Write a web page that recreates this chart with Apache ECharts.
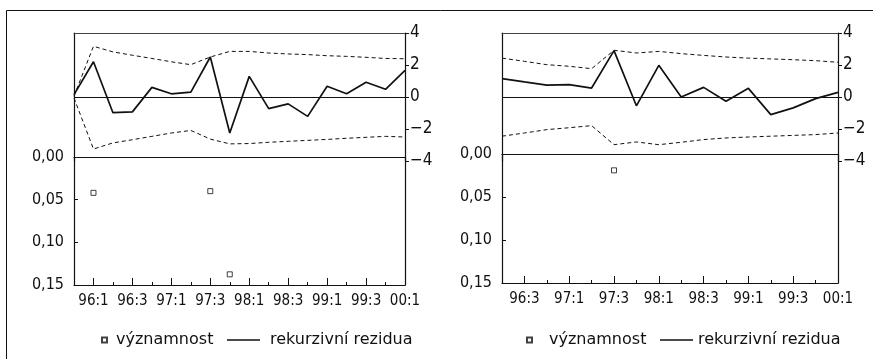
<!DOCTYPE html>
<html>
<head>
<meta charset="utf-8">
<script src="https://cdn.jsdelivr.net/npm/echarts@6/dist/echarts.min.js"></script>
<style>html,body{margin:0;padding:0;background:#fff;}#c{width:873px;height:359px;}</style>
</head>
<body>
<div id="c"></div>
<script>
// ---------- data ----------
var catsL = ['95:4','96:1','96:2','96:3','96:4','97:1','97:2','97:3','97:4','98:1','98:2','98:3','98:4','99:1','99:2','99:3','99:4','00:1'];
var residL = [0.15, 2.2, -0.98, -0.93, 0.6, 0.2, 0.3, 2.5, -2.25, 1.29, -0.73, -0.43, -1.21, 0.67, 0.2, 0.92, 0.48, 1.66];
var upperL = [0.05, 3.17, 2.82, 2.61, 2.41, 2.2, 2.02, 2.5, 2.85, 2.85, 2.75, 2.69, 2.65, 2.58, 2.54, 2.48, 2.41, 2.39];
var lowerL = [-0.06, -3.25, -2.87, -2.67, -2.46, -2.25, -2.09, -2.63, -2.93, -2.91, -2.83, -2.77, -2.71, -2.65, -2.58, -2.52, -2.46, -2.5];
var sigL = ['-', 0.042, '-', '-', '-', '-', '-', 0.040, 0.1375, '-', '-', '-', '-', '-', '-', '-', '-', '-'];

var catsR = ['96:2','96:3','96:4','97:1','97:2','97:3','97:4','98:1','98:2','98:3','98:4','99:1','99:2','99:3','99:4','00:1'];
var residR = [1.15, 0.94, 0.74, 0.77, 0.56, 2.9, -0.55, 1.98, 0.0, 0.6, -0.27, 0.54, -1.1, -0.68, -0.1, 0.29];
var upperR = [2.43, 2.23, 2.02, 1.92, 1.77, 2.92, 2.75, 2.85, 2.71, 2.6, 2.5, 2.43, 2.38, 2.33, 2.27, 2.17];
var lowerR = [-2.45, -2.25, -2.04, -1.92, -1.79, -2.98, -2.81, -2.98, -2.83, -2.66, -2.56, -2.5, -2.45, -2.4, -2.35, -2.25];
var sigR = ['-', '-', '-', '-', '-', 0.019, '-', '-', '-', '-', '-', '-', '-', '-', '-', '-'];

var resTicks = [-4, -2, 0, 2, 4];
var sigTicks = [0, 0.05, 0.10, 0.15];
var legendSig = 'významnost';
var legendRes = 'rekurzivní rezidua';

// ---------- chart ----------
var FONT = "'DejaVu Sans Condensed', 'Liberation Sans Narrow', 'DejaVu Sans', sans-serif";
var BLACK = '#111';
var chart = echarts.init(document.getElementById('c'), null, {renderer: 'canvas'});

function oddLabel(i) { return i % 2 === 1; }

function xAxesFor(cats, gUp, gLow) {
  return [
    { gridIndex: gUp, type: 'category', data: cats, boundaryGap: false, position: 'top',
      axisLine: { show: true, onZero: false, lineStyle: { color: '#444', width: 1 } },
      axisTick: { show: false }, axisLabel: { show: false }, splitLine: { show: false } },
    { gridIndex: gLow, type: 'category', data: cats, boundaryGap: false, position: 'bottom',
      axisLine: { show: true, onZero: false, lineStyle: { color: BLACK, width: 1.2 } },
      axisTick: { show: true, inside: true, length: 7, interval: oddLabel, lineStyle: { color: BLACK } },
      axisLabel: { show: true, interval: oddLabel, color: BLACK, fontFamily: FONT, fontSize: 15, margin: 9 },
      splitLine: { show: false } },
    { gridIndex: gLow, type: 'category', data: cats, boundaryGap: false, position: 'top',
      axisLine: { show: true, onZero: false, lineStyle: { color: BLACK, width: 1.2 } },
      axisTick: { show: false }, axisLabel: { show: false }, splitLine: { show: false } },
    { gridIndex: gLow, type: 'category', data: cats, boundaryGap: false, position: 'bottom',
      axisLine: { show: false, onZero: false },
      axisTick: { show: true, inside: true, length: 3, interval: 0, lineStyle: { color: BLACK } },
      axisLabel: { show: false }, splitLine: { show: false } }
  ];
}

function yAxesFor(gUp, gLow) {
  return [
    { gridIndex: gUp, type: 'value', position: 'right', min: resTicks[0], max: resTicks[resTicks.length - 1], interval: 2,
      axisLine: { show: true, onZero: false, lineStyle: { color: BLACK, width: 1.2 } },
      axisTick: { show: true, inside: false, length: 4, lineStyle: { color: BLACK } },
      axisLabel: { show: true, color: BLACK, fontFamily: FONT, fontSize: 17, margin: 5,
        formatter: function (v) { return v < 0 ? '\u2212' + Math.abs(v) : String(v); } },
      splitLine: { show: false } },
    { gridIndex: gUp, type: 'value', position: 'left', min: -4, max: 4,
      axisLine: { show: true, onZero: false, lineStyle: { color: BLACK, width: 1.2 } },
      axisTick: { show: false }, axisLabel: { show: false }, splitLine: { show: false } },
    { gridIndex: gLow, type: 'value', position: 'left', inverse: true, min: sigTicks[0], max: sigTicks[sigTicks.length - 1], interval: 0.05,
      axisLine: { show: true, onZero: false, lineStyle: { color: BLACK, width: 1.2 } },
      axisTick: { show: true, inside: true, length: 4, lineStyle: { color: BLACK } },
      axisLabel: { show: true, color: BLACK, fontFamily: FONT, fontSize: 16, margin: 10,
        formatter: function (v) { return v.toFixed(2).replace('.', ','); } },
      splitLine: { show: false } },
    { gridIndex: gLow, type: 'value', position: 'right', inverse: true, min: 0, max: 0.15,
      axisLine: { show: true, onZero: false, lineStyle: { color: BLACK, width: 1.2 } },
      axisTick: { show: false }, axisLabel: { show: false }, splitLine: { show: false } }
  ];
}

function seriesFor(xBase, yBase, resid, upper, lower, sig) {
  return [
    { name: legendRes, type: 'line', xAxisIndex: xBase, yAxisIndex: yBase, data: resid,
      symbol: 'none', itemStyle: { color: BLACK }, lineStyle: { color: BLACK, width: 1.7 }, z: 5, silent: true,
      markLine: { silent: true, symbol: 'none', label: { show: false },
        lineStyle: { color: BLACK, width: 1, type: 'solid' }, data: [{ yAxis: 0 }] } },
    { name: 'upper', type: 'line', xAxisIndex: xBase, yAxisIndex: yBase, data: upper,
      symbol: 'none', lineStyle: { color: BLACK, width: 1, type: [4, 3] }, silent: true },
    { name: 'lower', type: 'line', xAxisIndex: xBase, yAxisIndex: yBase, data: lower,
      symbol: 'none', lineStyle: { color: BLACK, width: 1, type: [4, 3] }, silent: true },
    { name: legendSig, type: 'scatter', xAxisIndex: xBase + 1, yAxisIndex: yBase + 2, data: sig,
      symbol: 'rect', symbolSize: 5, itemStyle: { color: '#fff', borderColor: BLACK, borderWidth: 1 }, silent: true }
  ];
}

function legendsFor(sigLeft, sigPad, resLeft, resPad) {
  var ts = { color: BLACK, fontFamily: "'DejaVu Sans', sans-serif", fontSize: 16 };
  return [
    { data: [{ name: legendSig, icon: 'rect' }], left: sigLeft, top: 327, itemWidth: 5, itemHeight: 5,
      selectedMode: false, textStyle: Object.assign({ padding: [0, 0, 0, sigPad] }, ts) },
    { data: [{ name: legendRes, icon: 'rect', itemStyle: { color: BLACK, borderWidth: 0 } }], left: resLeft, top: 327,
      itemWidth: 33, itemHeight: 1.5,
      selectedMode: false, textStyle: Object.assign({ padding: [0, 0, 0, resPad] }, ts) }
  ];
}

var option = {
  animation: false,
  backgroundColor: '#fff',
  grid: [
    { left: 74, top: 33, width: 331, height: 128 },
    { left: 74, top: 157, width: 331, height: 128 },
    { left: 502, top: 33, width: 336, height: 128 },
    { left: 502, top: 154, width: 336, height: 129 }
  ],
  xAxis: xAxesFor(catsL, 0, 1).concat(xAxesFor(catsR, 2, 3)),
  yAxis: yAxesFor(0, 1).concat(yAxesFor(2, 3)),
  legend: legendsFor(96, 4, 222, 5).concat(legendsFor(521, 12, 655, 0)),
  series: seriesFor(0, 0, residL, upperL, lowerL, sigL).concat(seriesFor(4, 4, residR, upperR, lowerR, sigR)),
  graphic: [
    { type: 'rect', silent: true, shape: { x: 6.5, y: 10.5, width: 900, height: 400 },
      style: { fill: 'none', stroke: BLACK, lineWidth: 1 } }
  ]
};
chart.setOption(option);
</script>
</body>
</html>
